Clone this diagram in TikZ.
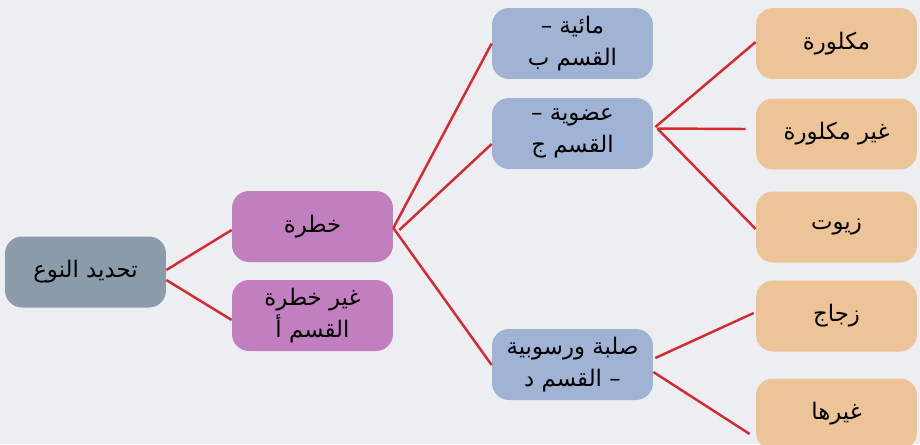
\documentclass[tikz,border=0pt]{standalone}
\usepackage{fontspec}
\usetikzlibrary{calc}
\newfontfamily\arabicfont[Script=Arabic]{DejaVu Sans}
\TeXXeTstate=1
\definecolor{bgc}{HTML}{EDEEF1}
\definecolor{rootc}{HTML}{8A9BAB}
\definecolor{purc}{HTML}{C17FBF}
\definecolor{bluec}{HTML}{A0B3D5}
\definecolor{peachc}{HTML}{EDC498}
\definecolor{linec}{HTML}{D42A30}
\begin{document}
\begin{tikzpicture}[x=0.02cm,y=-0.02cm,
  box/.style={rounded corners=0.34cm, minimum width=3.22cm, minimum height=1.42cm,
    inner sep=0pt, align=center, font=\arabicfont\fontsize{13}{18.5}\selectfont, text=black},
  rootbox/.style={box, fill=rootc},
  purbox/.style={box, fill=purc},
  bluebox/.style={box, fill=bluec},
  peachbox/.style={box, fill=peachc},
  conn/.style={draw=linec, line width=1.4pt}]
\fill[bgc] (0,0) rectangle (920,444);
\useasboundingbox (0,0) rectangle (920,444);
\node[rootbox] (root) at (85.5,272) {\beginR تحديد النوع\endR};
\node[purbox] (k) at (312.5,226.5) {\beginR خطرة\endR};
\node[purbox] (gk) at (312.5,315.5) {\beginR غير خطرة\endR\\\beginR القسم أ\endR};
\node[bluebox] (b) at (572.5,43.5) {\beginR مائية –\endR\\\beginR القسم ب\endR};
\node[bluebox] (j) at (572.5,133.5) {\beginR عضوية –\endR\\\beginR القسم ج\endR};
\node[bluebox] (d) at (572.5,364.5) {\beginR صلبة ورسوبية\endR\\\beginR – القسم د\endR};
\node[peachbox] (r1) at (836.5,43.5) {\beginR مكلورة\endR};
\node[peachbox] (r2) at (836.5,134) {\beginR غير مكلورة\endR};
\node[peachbox] (r3) at (836.5,227) {\beginR زيوت\endR};
\node[peachbox] (r4) at (836.5,316) {\beginR زجاج\endR};
\node[peachbox] (r5) at (836.5,414) {\beginR غيرها\endR};
% connectors
\draw[conn] ($(root.east)+(0,-2)$) -- ($(k.west)+(0,3.5)$);
\draw[conn] ($(root.east)+(0,8)$) -- ($(gk.west)+(0,4.5)$);
\draw[conn] ($(k.east)+(0,1.5)$) -- (b.west);
\draw[conn] ($(k.east)+(6,3.5)$) -- ($(j.west)+(0,10.5)$);
\draw[conn] ($(k.east)+(0,1.5)$) -- ($(d.west)+(0,0.5)$);
\draw[conn] ($(j.east)+(2,-6.5)$) -- ($(r1.west)+(0,-1.5)$);
\draw[conn] ($(j.east)+(4,-5)$) -- ($(r2.west)+(-10,-5)$);
\draw[conn] ($(j.east)+(4,-5)$) -- ($(r3.west)+(0,2)$);
\draw[conn] ($(d.east)+(2,-6.5)$) -- ($(r4.west)+(-2,-3)$);
\draw[conn] ($(d.east)+(0,7.5)$) -- ($(r5.west)+(-6,20)$);
\end{tikzpicture}
\end{document}
